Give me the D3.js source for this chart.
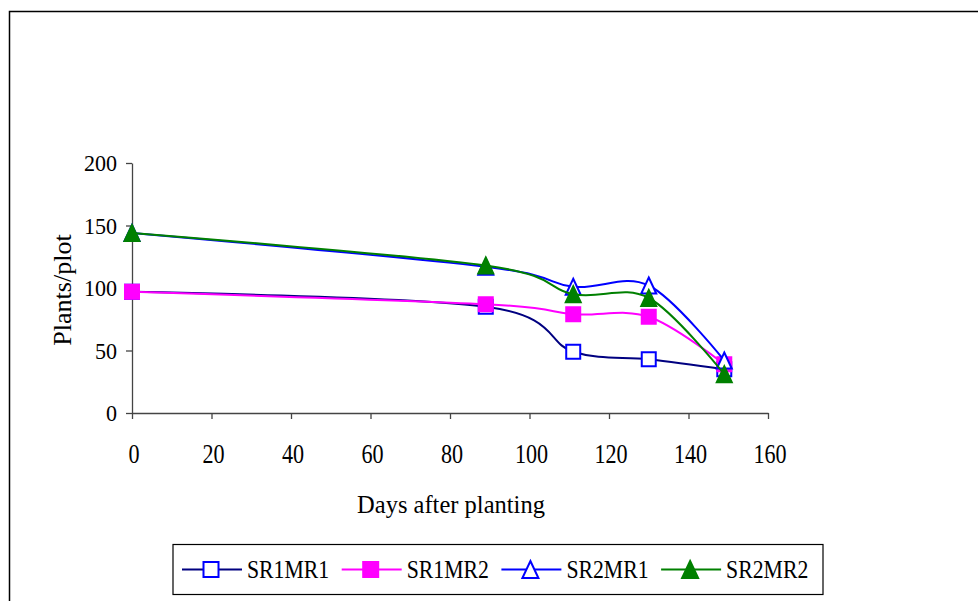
<!DOCTYPE html>
<html>
<head>
<meta charset="utf-8">
<script src="https://cdn.jsdelivr.net/npm/d3@7"></script>
<style>
  html, body { margin: 0; padding: 0; background: #fff; }
  svg { display: block; }
  text { font-family: "Liberation Serif", "Times New Roman", serif; fill: #000; }
</style>
</head>
<body>
<svg id="chart" width="978" height="601"></svg>
<script>
// Sampling days and plant counts per plot for each treatment
const days = [0, 89, 111, 130, 149];
const sr1mr1 = [97, 85, 49, 43, 35];
const sr1mr2 = [97, 87, 79, 77, 39];
const sr2mr1 = [144, 117, 101, 102, 42];
const sr2mr2 = [144, 118, 95, 92, 31];

const seriesNames = ["SR1MR1", "SR1MR2", "SR2MR1", "SR2MR2"];
const xTicks = [0, 20, 40, 60, 80, 100, 120, 140, 160];
const yTicks = [0, 50, 100, 150, 200];

const styles = {
  SR1MR1: { line: "#000080", marker: "square", fill: "#fff", stroke: "#0000ff" },
  SR1MR2: { line: "#ff00ff", marker: "square", fill: "#ff00ff", stroke: "#ff00ff" },
  SR2MR1: { line: "#0000ff", marker: "triangle", fill: "#fff", stroke: "#0000ff" },
  SR2MR2: { line: "#008000", marker: "triangle", fill: "#008000", stroke: "#008000" }
};
const valuesByName = { SR1MR1: sr1mr1, SR1MR2: sr1mr2, SR2MR1: sr2mr1, SR2MR2: sr2mr2 };

const svg = d3.select("#chart");

// outer chart frame
svg.append("rect")
  .attr("x", 9.5).attr("y", 11.5)
  .attr("width", 990).attr("height", 610)
  .attr("fill", "none").attr("stroke", "#000").attr("stroke-width", 1.5);

const x = d3.scaleLinear().domain([0, 160]).range([132, 768]);
const y = d3.scaleLinear().domain([0, 200]).range([413, 163]);

// axes
const axisColor = "#444";
const xAxis = svg.append("g").attr("transform", `translate(0,${y(0)})`)
  .call(d3.axisBottom(x).tickValues(xTicks).tickSize(6).tickSizeOuter(0).tickFormat(""));
const yAxis = svg.append("g").attr("transform", `translate(${x(0)},0)`)
  .call(d3.axisLeft(y).tickValues(yTicks).tickSize(6).tickSizeOuter(0).tickFormat(""));
[xAxis, yAxis].forEach(g => {
  g.select(".domain").attr("stroke", axisColor).attr("stroke-width", 1.3);
  g.selectAll(".tick line").attr("stroke", axisColor).attr("stroke-width", 1.3);
});

// condensed serif labels
function label(parent, tx, ty, str, size, sx, anchor) {
  return parent.append("text")
    .attr("transform", `translate(${tx},${ty}) scale(${sx},1)`)
    .attr("text-anchor", anchor)
    .style("font-size", size + "px")
    .text(str);
}

xTicks.forEach(t => label(svg, x(t) + 2, 463, String(t), 27, 0.82, "middle"));
yTicks.forEach(t => label(svg, 117, y(t) + 8, String(t), 24, 0.92, "end"));

label(svg, 451, 513, "Days after planting", 25, 0.98, "middle");
svg.append("text")
  .attr("transform", "translate(71,290) rotate(-90)")
  .attr("text-anchor", "middle")
  .style("font-size", "26px")
  .text("Plants/plot");

// markers
function drawMarker(g, cx, cy, kind, st, size) {
  if (kind === "square") {
    g.append("rect")
      .attr("x", cx - size / 2).attr("y", cy - size / 2)
      .attr("width", size).attr("height", size)
      .attr("fill", st.fill).attr("stroke", st.stroke).attr("stroke-width", 2);
  } else {
    const w = size + 1, h = size + 2;
    g.append("path")
      .attr("d", `M${cx},${cy - h / 2}L${cx + w / 2},${cy + h / 2}L${cx - w / 2},${cy + h / 2}Z`)
      .attr("fill", st.fill).attr("stroke", st.stroke).attr("stroke-width", 2)
      .attr("stroke-linejoin", "miter");
  }
}

const line = d3.line()
  .x(d => x(d[0]))
  .y(d => y(d[1]))
  .curve(d3.curveCatmullRom.alpha(0));

seriesNames.forEach(name => {
  const st = styles[name];
  const pts = days.map((d, i) => [d, valuesByName[name][i]]);
  const g = svg.append("g");
  g.append("path")
    .attr("d", line(pts))
    .attr("fill", "none")
    .attr("stroke", st.line)
    .attr("stroke-width", 2);
  pts.forEach(p => drawMarker(g, x(p[0]), y(p[1]), st.marker, st, 14));
});

// legend
const legend = svg.append("g");
legend.append("rect")
  .attr("x", 173).attr("y", 544.5)
  .attr("width", 650).attr("height", 50)
  .attr("fill", "#fff").attr("stroke", "#000").attr("stroke-width", 1.2);

seriesNames.forEach((name, i) => {
  const st = styles[name];
  const x0 = 182 + i * 159.7;
  const cy = 569.5;
  const g = legend.append("g");
  g.append("line")
    .attr("x1", x0).attr("x2", x0 + 60)
    .attr("y1", cy).attr("y2", cy)
    .attr("stroke", st.line).attr("stroke-width", 2);
  drawMarker(g, x0 + 29, cy, st.marker, st, 15);
  label(g, x0 + 65, 577.5, name, 25, 0.87, "start");
});
</script>
</body>
</html>
